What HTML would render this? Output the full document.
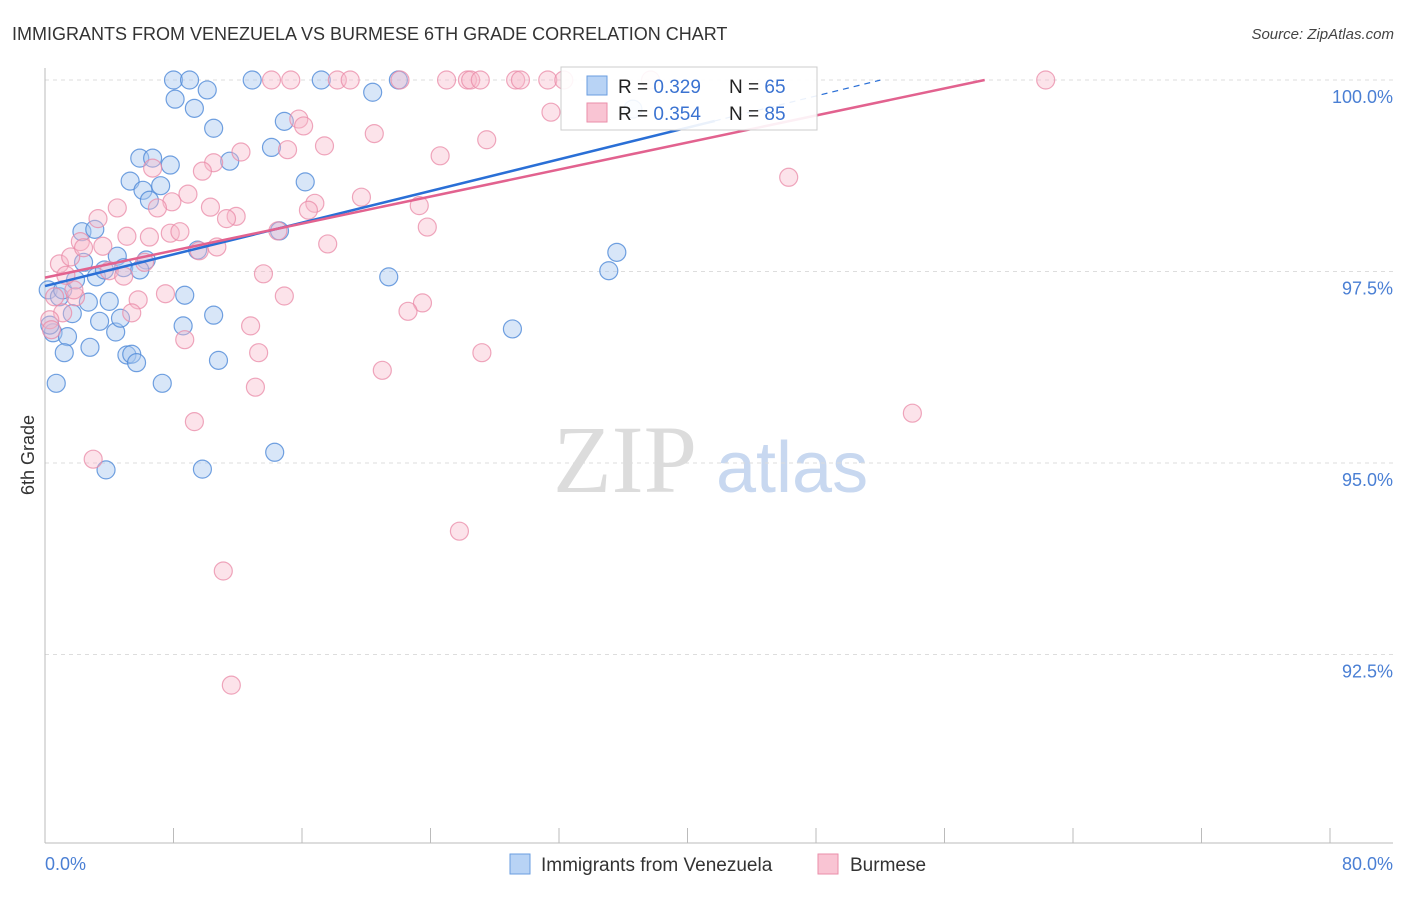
<!DOCTYPE html>
<html><head><meta charset="utf-8"><style>
body{margin:0;background:#fff;font-family:"Liberation Sans",sans-serif;}
svg text{font-family:"Liberation Sans",sans-serif;}
</style></head><body>
<svg id="chart" width="1406" height="892" xmlns="http://www.w3.org/2000/svg">
<text x="12" y="40" font-size="18" fill="#333">IMMIGRANTS FROM VENEZUELA VS BURMESE 6TH GRADE CORRELATION CHART</text>
<text x="1394" y="39" font-size="15" fill="#444" font-style="italic" text-anchor="end">Source: ZipAtlas.com</text>
<g>
<text x="553" y="492" font-size="96" fill="#dcdcdc" font-family="Liberation Serif" style="font-family:'Liberation Serif',serif">ZIP</text>
<text x="716" y="492" font-size="72" fill="#c8d8f0">atlas</text>
</g>
<g id="grid"></g>
<g id="axes"></g>
<g id="pts"></g>
<g id="lines"></g>
<text transform="translate(34,455) rotate(-90)" font-size="18" fill="#333" text-anchor="middle">6th Grade</text>
<g>
<rect x="561" y="67" width="256" height="63" fill="#fff" fill-opacity="0.9" stroke="#ccc"/>
<rect x="587" y="76" width="20" height="19" fill="#b8d3f5" stroke="#6a9ee0"/>
<rect x="587" y="103" width="20" height="19" fill="#f9c4d3" stroke="#ea8eaa"/>
<text x="618" y="93" font-size="19" fill="#222">R = <tspan fill="#3b73d1">0.329</tspan></text>
<text x="729" y="93" font-size="19" fill="#222">N = <tspan fill="#3b73d1">65</tspan></text>
<text x="618" y="120" font-size="19" fill="#222">R = <tspan fill="#3b73d1">0.354</tspan></text>
<text x="729" y="120" font-size="19" fill="#222">N = <tspan fill="#3b73d1">85</tspan></text>
</g>
<g>
<rect x="510" y="854" width="20" height="20" fill="#b8d3f5" stroke="#6a9ee0"/>
<text x="541" y="871" font-size="19" fill="#333">Immigrants from Venezuela</text>
<rect x="818" y="854" width="20" height="20" fill="#f9c4d3" stroke="#ea8eaa"/>
<text x="850" y="871" font-size="19" fill="#333">Burmese</text>
</g>
</svg>
<script>
const yTicks=[100,97.5,95,92.5];
const yTickLabels=["100.0%","97.5%","95.0%","92.5%"];
const xTickVals=[0,8,16,24,32,40,48,56,64,72,80];
const xEndLabels=["0.0%","80.0%"];
const blueX=[8.0,9.0,12.9,17.2,22.0,8.1,10.1,9.3,10.5,20.4,14.9,14.1,5.9,6.7,7.8,5.3,6.1,7.2,6.5,11.5,16.2,2.3,3.1,2.4,3.2,3.7,4.5,4.9,6.3,9.5,14.6,21.4,35.1,35.6,29.1,0.2,0.9,1.7,2.7,4.0,3.4,4.4,4.7,8.7,8.6,10.5,0.5,1.4,1.2,2.8,5.1,5.4,5.7,10.8,0.7,7.3,3.8,9.8,14.3,36.6,0.3,1.1,1.9,5.9];
const blueY=[100,100,100,100,100,99.75,99.87,99.63,99.37,99.84,99.46,99.12,98.98,98.98,98.89,98.68,98.56,98.62,98.43,98.94,98.67,98.02,98.05,97.62,97.43,97.52,97.70,97.55,97.65,97.78,98.03,97.43,97.51,97.75,96.75,97.26,97.17,96.95,97.10,97.11,96.85,96.71,96.89,97.19,96.79,96.93,96.70,96.65,96.44,96.51,96.41,96.42,96.31,96.34,96.04,96.04,94.91,94.92,95.14,99.62,96.80,97.26,97.39,97.52];
const pinkX=[14.1,15.3,18.2,19.0,22.1,25.0,26.3,26.5,27.1,29.3,29.6,31.3,32.3,37.7,62.3,15.8,16.1,20.5,27.5,24.6,17.4,31.5,15.1,12.2,10.5,9.8,6.7,46.3,19.7,8.9,7.9,7.0,4.5,3.3,10.3,11.9,11.3,16.8,16.4,23.3,23.8,2.2,3.6,5.1,6.5,7.8,8.4,14.5,17.6,10.7,9.6,0.9,1.6,2.4,4.0,4.9,6.2,13.6,7.5,5.8,14.9,23.5,22.6,5.4,1.9,0.6,1.1,12.8,8.7,13.3,27.2,21.0,13.1,54.0,9.3,3.0,25.8,11.1,11.6,0.3,0.4,1.8,1.3];
const pinkY=[100,100,100,100,100,100,100,100,100,100,100,100,100,100,100,99.49,99.40,99.30,99.22,99.01,99.14,99.58,99.09,99.06,98.92,98.81,98.85,98.73,98.47,98.51,98.41,98.33,98.33,98.19,98.34,98.22,98.19,98.39,98.30,98.36,98.08,97.89,97.83,97.96,97.95,98.00,98.02,98.03,97.86,97.82,97.77,97.60,97.69,97.81,97.51,97.44,97.62,97.47,97.21,97.13,97.18,97.09,96.98,96.96,97.17,97.17,96.96,96.79,96.61,96.44,96.44,96.21,95.99,95.65,95.54,95.05,94.11,93.59,92.10,96.87,96.74,97.26,97.45];
const blueTrend=[97.31,0.0517,41.7,52];
const pinkTrend=[97.42,0.0441,58.5];

const NS="http://www.w3.org/2000/svg";
const X0=45,X1=1330,Y100=80,PXPER=76.6;
function sx(v){return X0+v/80*(X1-X0);}
function sy(v){return Y100+(100-v)*PXPER;}
function mk(tag,attrs,parent){const e=document.createElementNS(NS,tag);for(const k in attrs)e.setAttribute(k,attrs[k]);parent.appendChild(e);return e;}
const grid=document.getElementById('grid'),axes=document.getElementById('axes'),pts=document.getElementById('pts'),lines=document.getElementById('lines');
yTicks.forEach((t,i)=>{
  const l=mk('line',{x1:X0,x2:1393,y1:sy(t),y2:sy(t),stroke:'#ddd','stroke-dasharray':'4,4'},grid);
  
  
  const tx=mk('text',{x:1393,y:sy(t)+23,'font-size':18,fill:'#4a7fd4','text-anchor':'end'},grid);
  tx.textContent=yTickLabels[i];
  
  
});
const ya=mk('line',{x1:X0,x2:X0,y1:68,y2:843,stroke:'#bbb'},axes);


const xa=mk('line',{x1:X0,x2:1393,y1:843,y2:843,stroke:'#bbb'},axes);


xTickVals.forEach(v=>{
  const t=mk('line',{x1:sx(v),x2:sx(v),y1:828,y2:843,stroke:'#bbb'},axes);
  
  
});
const xl0=mk('text',{x:45,y:870,'font-size':18,fill:'#4a7fd4'},axes);
xl0.textContent=xEndLabels[0];


const xl1=mk('text',{x:1393,y:870,'font-size':18,fill:'#4a7fd4','text-anchor':'end'},axes);
xl1.textContent=xEndLabels[1];


blueX.forEach((x,i)=>{
  const c=mk('circle',{cx:sx(x),cy:sy(blueY[i]),r:9,fill:'#a9c8f0','fill-opacity':0.45,stroke:'#4f8ad8','stroke-opacity':0.8,'stroke-width':1.2},pts);
  
  
});
pinkX.forEach((x,i)=>{
  const c=mk('circle',{cx:sx(x),cy:sy(pinkY[i]),r:9,fill:'#f8b9cb','fill-opacity':0.4,stroke:'#e98aa7','stroke-opacity':0.75,'stroke-width':1.2},pts);
  
  
});
const bt=blueTrend;
const b1=mk('line',{x1:sx(0),y1:sy(bt[0]),x2:sx(bt[2]),y2:sy(bt[0]+bt[1]*bt[2]),stroke:'#2a6fd6','stroke-width':2.5},lines);


const b2=mk('line',{x1:sx(bt[2]),y1:sy(bt[0]+bt[1]*bt[2]),x2:sx(bt[3]),y2:sy(bt[0]+bt[1]*bt[3]),stroke:'#2a6fd6','stroke-width':1.2,'stroke-dasharray':'6,5'},lines);


const pt=pinkTrend;
const p1=mk('line',{x1:sx(0),y1:sy(pt[0]),x2:sx(pt[2]),y2:sy(pt[0]+pt[1]*pt[2]),stroke:'#e2628f','stroke-width':2.5},lines);


</script>
</body></html>
